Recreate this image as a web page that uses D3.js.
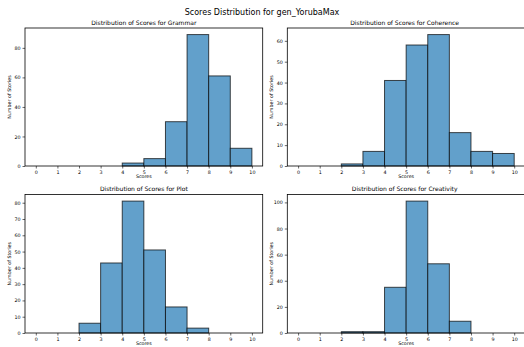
<!DOCTYPE html>
<html>
<head>
<meta charset="utf-8">
<script src="https://cdn.jsdelivr.net/npm/d3@7"></script>
<style>
  body { margin: 0; background: #fff; }
  svg { display: block; font-family: "DejaVu Sans", sans-serif; }
</style>
</head>
<body>
<div id="chart"></div>
<script>
// bins 0-1, 1-2, ... 9-10
const binStarts = [0, 1, 2, 3, 4, 5, 6, 7, 8, 9];
const xTicks = [0, 1, 2, 3, 4, 5, 6, 7, 8, 9, 10];

const grammarCounts = [0, 0, 0, 0, 2, 5, 30, 89, 61, 12];
const coherenceCounts = [0, 0, 1, 7, 41, 58, 63, 16, 7, 6];
const plotCounts = [0, 0, 6, 43, 81, 51, 16, 3, 0, 0];
const creativityCounts = [0, 0, 1, 1, 35, 101, 53, 9, 0, 0];

const panelNames = ['Grammar', 'Coherence', 'Plot', 'Creativity'];
const panelCounts = [grammarCounts, coherenceCounts, plotCounts, creativityCounts];
const panelYTicks = [
    [0, 20, 40, 60, 80],
    [0, 10, 20, 30, 40, 50, 60],
    [0, 10, 20, 30, 40, 50, 60, 70, 80],
    [0, 20, 40, 60, 80, 100]
];

const width = 524, height = 347;
const svg = d3.select('#chart').append('svg')
    .attr('width', width)
    .attr('height', height);

svg.append('text')
    .attr('x', 262).attr('y', 15)
    .attr('text-anchor', 'middle')
    .attr('font-size', '8px')
    .attr('fill', '#000')
    .text('Scores Distribution for gen_YorubaMax');

// frame boxes for each subplot
const boxes = [
    { x0: 25, x1: 262.7, y0: 28, y1: 166 },
    { x0: 287.3, x1: 525, y0: 28, y1: 166 },
    { x0: 25, x1: 262.7, y0: 194.5, y1: 333 },
    { x0: 287.3, x1: 525, y0: 194.5, y1: 333 }
];

panelNames.forEach((name, i) => {
    const b = boxes[i];
    const counts = panelCounts[i];
    const g = svg.append('g');

    const x = d3.scaleLinear().domain([-0.5, 10.5]).range([b.x0, b.x1]);
    const y = d3.scaleLinear().domain([0, d3.max(counts) * 1.05]).range([b.y1, b.y0]);

    // bars
    g.selectAll('rect.bar')
        .data(binStarts)
        .enter()
        .append('rect')
        .attr('class', 'bar')
        .attr('x', d => x(d))
        .attr('y', (d, j) => y(counts[j]))
        .attr('width', x(1) - x(0))
        .attr('height', (d, j) => y(0) - y(counts[j]))
        .attr('fill', 'rgb(98,160,203)')
        .attr('stroke', 'rgba(0,0,0,0.7)')
        .attr('stroke-width', 1);

    // frame
    g.append('rect')
        .attr('x', b.x0).attr('y', b.y0)
        .attr('width', b.x1 - b.x0).attr('height', b.y1 - b.y0)
        .attr('fill', 'none')
        .attr('stroke', '#000')
        .attr('stroke-width', 0.8);

    // axes
    const xAxis = d3.axisBottom(x).tickValues(xTicks).tickSize(2.5).tickPadding(2);
    const xg = g.append('g').attr('transform', `translate(0,${b.y1})`).call(xAxis);
    const yAxis = d3.axisLeft(y).tickValues(panelYTicks[i]).tickSize(2.5).tickPadding(2);
    const yg = g.append('g').attr('transform', `translate(${b.x0},0)`).call(yAxis);
    [xg, yg].forEach(a => {
        a.select('.domain').remove();
        a.selectAll('line').attr('stroke', '#000').attr('stroke-width', 0.6);
        a.selectAll('text').attr('font-size', '4.8px').attr('fill', '#000').attr('font-family', '"DejaVu Sans", sans-serif');
    });

    // titles and labels
    g.append('text')
        .attr('x', (b.x0 + Math.min(b.x1, 524)) / 2 + (i % 2 ? -1 : 0))
        .attr('y', b.y0 - 3.5)
        .attr('text-anchor', 'middle')
        .attr('font-size', '6px')
        .attr('fill', '#000')
        .text(`Distribution of Scores for ${name}`);

    g.append('text')
        .attr('x', (b.x0 + b.x1) / 2)
        .attr('y', b.y1 + 12)
        .attr('text-anchor', 'middle')
        .attr('font-size', '4.8px')
        .attr('fill', '#000')
        .text('Scores');

    g.append('text')
        .attr('transform', `translate(${b.x0 - 14},${(b.y0 + b.y1) / 2}) rotate(-90)`)
        .attr('text-anchor', 'middle')
        .attr('font-size', '4.8px')
        .attr('fill', '#000')
        .text('Number of Stories');
});
</script>
</body>
</html>
